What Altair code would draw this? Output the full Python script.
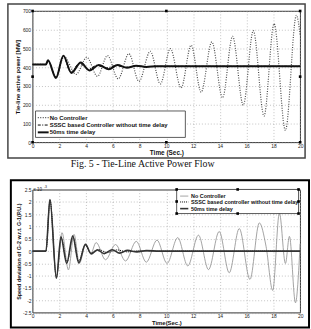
import altair as alt
import pandas as pd

FONT = "Liberation Sans"

# ---------------- top figure: tie-line active power [MW] ----------------
top_nc_t = [0, 1.0, 1.15, 1.75, 2.35, 3.25, 4.05, 4.85, 5.6, 6.4, 7.2, 7.95, 8.8, 9.55,
            10.3, 11.1, 11.85, 12.6, 13.4, 14.2, 14.95, 15.75, 16.5, 17.3, 18.05, 18.9, 19.72, 20.0]
top_nc_v = [415, 415, 435, 345, 457, 362, 453, 352, 462, 338, 472, 325, 485, 311,
            499, 290, 517, 267, 535, 237, 565, 198, 595, 140, 632, 63, 677, 570]
top_sssc_t = [0, 1.0, 1.15, 1.75, 2.3, 2.85, 3.5, 4.15, 4.8, 5.5, 6.2, 6.95, 7.7, 8.5, 9.3, 20]
top_sssc_v = [415, 415, 435, 347, 456, 374, 421, 389, 410, 396, 409, 400, 406, 403, 405, 405]
top_d50_t = [0, 1.0, 1.15, 1.75, 2.3, 2.9, 3.6, 4.25, 4.95, 5.7, 6.35, 7.05, 7.75, 8.5, 9.3, 20]
top_d50_v = [415, 415, 437, 343, 462, 370, 425, 383, 412, 390, 412, 398, 408, 402, 405, 405]

top_x_ticks = [0, 2, 4, 6, 8, 10, 12, 14, 16, 18, 20]
top_y_ticks = [0, 100, 200, 300, 400, 500, 600, 700]
top_legend_labels = ["No Controller", "SSSC based Controller without time delay", "50ms time delay"]
top_legend_rows = [132, 92, 53]
top_legend_sym = [0.39, 1.2, 1.28]          # symbol start, symbol end, text start (s)
top_legend_box = [0.22, 11.42, 26, 167]     # t0, t1, v0, v1
top_handles_t = [0, 10, 20, 20, 20, 10, 0, 0]
top_handles_v = [700, 700, 700, 350, 0, 0, 0, 350]
top_caption = "Fig. 5 - Tie-Line Active Power Flow"

# ---------------- bottom figure: speed deviation (x 10^-3 p.u.) ----------------
bot_nc_t = [0, 1.0, 1.3, 1.78, 2.2, 2.68, 3.1, 3.5, 3.97, 4.35, 4.75, 5.45, 6.2, 6.95, 7.75, 8.5,
            9.3, 10.05, 10.85, 11.6, 12.4, 13.15, 13.95, 14.7, 15.45, 16.25, 16.95, 17.45, 17.95,
            18.45, 18.9, 19.2, 19.65, 20.0]
bot_nc_v = [0, 0, 2.1, -1.1, 0.75, -0.76, 0.68, -0.5, 0.28, -0.1, 0.35, -0.35, 0.27, -0.4, 0.4, -0.45,
            0.45, -0.5, 0.55, -0.6, 0.65, -0.75, 0.8, -0.88, 0.92, -1.15, 1.15, 0.2, -1.6,
            1.55, -0.5, 0.6, -2.1, 0.3]
bot_sssc_t = [0, 1.0, 1.3, 1.78, 2.15, 2.57, 3.02, 3.45, 3.92, 4.35, 4.9, 5.6, 6.3, 7.1, 8.0, 9.0, 20]
bot_sssc_v = [0, 0, 2.08, -1.05, 0.52, -0.45, 0.56, -0.42, 0.25, -0.08, 0.07, -0.06, 0.05, -0.03, 0.02, 0, 0]
bot_d50_t = [0, 1.0, 1.3, 1.78, 2.12, 2.55, 3.0, 3.45, 3.95, 4.38, 4.85, 5.35, 5.95, 6.5, 7.1, 7.8, 8.5, 9.5, 20]
bot_d50_v = [0, 0, 2.1, -1.1, 0.58, -0.5, 0.62, -0.48, 0.28, -0.11, 0.05, -0.1, 0.06, -0.08, 0.03, -0.03, 0.02, 0, 0]

bot_x_ticks = [0, 2, 4, 6, 8, 10, 12, 14, 16, 18, 20]
bot_y_ticks = [-2.5, -2, -1.5, -1, -0.5, 0, 0.5, 1, 1.5, 2, 2.5]
bot_legend_labels = ["No Controller", "SSSC based controller without time delay", "50ms time delay"]
bot_legend_rows = [2.24, 2.0, 1.73]
bot_legend_sym = [11.03, 11.64, 11.84]
bot_legend_box = [10.77, 19.88, 1.53, 2.51]
bot_handles_t = [10.77, 15.33, 19.88, 19.88, 19.88, 15.33, 10.77, 10.77]
bot_handles_v = [2.51, 2.51, 2.51, 2.02, 1.53, 1.53, 1.53, 2.02]


def make_axis(values, title, title_size, orient_x, label_expr=None, title_pad=1, label_pad=1):
    kw = dict(values=values, title=title, labelFontSize=5, labelColor="#222", labelFont=FONT,
              labelPadding=label_pad, ticks=False, domain=False, grid=True, gridColor="#9a9a9a",
              gridDash=[1, 2], gridWidth=0.6, titleFont=FONT, titleFontSize=title_size,
              titleFontWeight="bold", titleColor="#111", titlePadding=title_pad,
              labelFlush=False, labelOverlap=False)
    if label_expr:
        kw["labelExpr"] = label_expr
    else:
        kw["format"] = "d"
    return alt.Axis(**kw)


def build_panel(series, X, Y, legend_labels, legend_rows, legend_sym, legend_box,
                handles_t, handles_v, styles, legend_font, extras):
    layers = []
    for (t, v), st in zip(series, styles):
        layers.append(alt.Chart(pd.DataFrame({"t": t, "v": v}))
                      .mark_line(interpolate="monotone", **st).encode(x=X, y=Y))
    # legend box
    layers.append(alt.Chart(pd.DataFrame({"t": [legend_box[0]], "t2": [legend_box[1]],
                                          "v": [legend_box[2]], "v2": [legend_box[3]]}))
                  .mark_rect(fill="white", stroke="#333", strokeWidth=0.8)
                  .encode(x=X, x2="t2:Q", y=Y, y2="v2:Q"))
    for row, st in zip(legend_rows, styles):
        layers.append(alt.Chart(pd.DataFrame({"t": [legend_sym[0]], "t2": [legend_sym[1]], "v": [row]}))
                      .mark_rule(**st).encode(x=X, x2="t2:Q", y=Y))
    layers.append(alt.Chart(pd.DataFrame({"t": [legend_sym[2]] * len(legend_rows), "v": legend_rows,
                                          "label": legend_labels}))
                  .mark_text(align="left", baseline="middle", font=FONT, fontSize=legend_font,
                             fontWeight="bold", color="#111")
                  .encode(x=X, y=Y, text="label:N"))
    layers.append(alt.Chart(pd.DataFrame({"t": handles_t, "v": handles_v}))
                  .mark_square(size=7, color="black", opacity=1).encode(x=X, y=Y))
    layers.extend(extras)
    return alt.layer(*layers)


one = pd.DataFrame({"k": [0]})

# ---- top panel
tX = alt.X("t:Q", scale=alt.Scale(domain=[0, 20], nice=False, zero=False),
           axis=make_axis(top_x_ticks, "Time (Sec.)", 6.5, True))
tY = alt.Y("v:Q", scale=alt.Scale(domain=[0, 700], nice=False),
           axis=make_axis(top_y_ticks, "Tie-line active power [MW]", 6, False, title_pad=2, label_pad=2))
top_styles = [
    dict(color="#4a4a4a", strokeWidth=1.2, strokeDash=[1, 1.5]),
    dict(color="#000000", strokeWidth=1.0, strokeDash=[3, 1.5, 1, 1.5]),
    dict(color="#111111", strokeWidth=2.0),
]
top_extras = [
    alt.Chart(one).mark_text(text=top_caption, font="Liberation Serif", fontSize=10, align="center",
                             baseline="middle", color="#111")
    .encode(x=alt.value(111.5), y=alt.value(155.3)),
    alt.Chart(one).mark_rect(fillOpacity=0, stroke="#444", strokeWidth=1.5)
    .encode(x=alt.value(-25), x2=alt.value(276), y=alt.value(-7), y2=alt.value(149)),
    alt.Chart(one).mark_rule(strokeOpacity=0, strokeWidth=0.5)
    .encode(x=alt.value(-32), y=alt.value(-7), y2=alt.value(169)),
]
top = build_panel([(top_nc_t, top_nc_v), (top_sssc_t, top_sssc_v), (top_d50_t, top_d50_v)],
                  tX, tY, top_legend_labels, top_legend_rows, top_legend_sym, top_legend_box,
                  top_handles_t, top_handles_v, top_styles, 6, top_extras
                  ).properties(width=271, height=133)

# ---- bottom panel
bX = alt.X("t:Q", scale=alt.Scale(domain=[0, 20], nice=False, zero=False),
           axis=make_axis(bot_x_ticks, "Time(Sec.)", 6, True))
bY = alt.Y("v:Q", scale=alt.Scale(domain=[-2.5, 2.5], nice=False, zero=False),
           axis=make_axis(bot_y_ticks, "Speed deviation of G-2 w.r.t. G-1(P.U.)", 5.5, False,
                          label_expr="toString(datum.value)", title_pad=1, label_pad=1.5))
bot_styles = [
    dict(color="#8c8c8c", strokeWidth=0.8),
    dict(color="#000000", strokeWidth=1.0, strokeDash=[1, 1]),
    dict(color="#333333", strokeWidth=1.6),
]
bot_extras = [
    alt.Chart(one).mark_text(text="x 10", font=FONT, fontSize=4.5, align="left", baseline="middle",
                             color="#222").encode(x=alt.value(1), y=alt.value(0.5)),
    alt.Chart(one).mark_text(text="-3", font=FONT, fontSize=3.5, align="left", baseline="middle",
                             color="#222").encode(x=alt.value(11.5), y=alt.value(-2.5)),
    alt.Chart(one).mark_rect(fillOpacity=0, stroke="#000", strokeWidth=2)
    .encode(x=alt.value(-22), x2=alt.value(280), y=alt.value(-9.5), y2=alt.value(139.5)),
]
bottom = build_panel([(bot_nc_t, bot_nc_v), (bot_sssc_t, bot_sssc_v), (bot_d50_t, bot_d50_v)],
                     bX, bY, bot_legend_labels, bot_legend_rows, bot_legend_sym, bot_legend_box,
                     bot_handles_t, bot_handles_v, bot_styles, 5.5, bot_extras
                     ).properties(width=271, height=124.5)

chart = (alt.vconcat(top, bottom, spacing=0)
         .properties(padding=0, background="white")
         .configure_view(stroke="black", strokeWidth=0.8))

chart.save("out.html", embed_options={"renderer": "svg", "actions": False})
